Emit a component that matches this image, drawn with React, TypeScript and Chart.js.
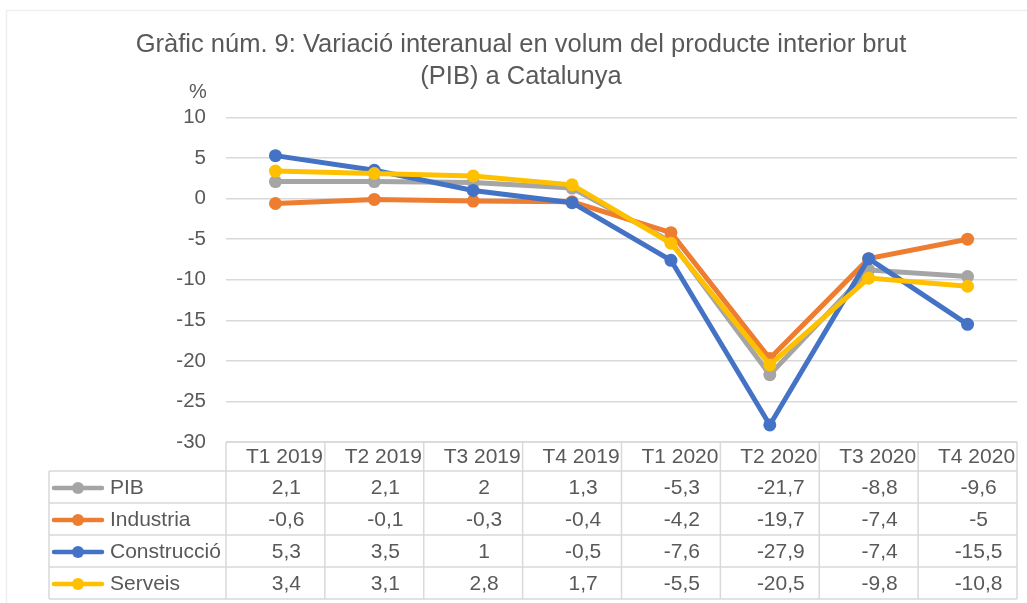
import React, { useEffect, useRef } from "react";
import { Chart, registerables } from "chart.js";

Chart.register(...registerables);

const TITLE_LINES = [
  "Gràfic núm. 9: Variació interanual en volum del producte interior brut",
  "(PIB) a Catalunya",
];
const UNIT_LABEL = "%";
const CATEGORIES = ["T1 2019", "T2 2019", "T3 2019", "T4 2019", "T1 2020", "T2 2020", "T3 2020", "T4 2020"];
const SERIES_NAMES = ["PIB", "Industria", "Construcció", "Serveis"];
const PIB = [2.1, 2.1, 2, 1.3, -5.3, -21.7, -8.8, -9.6];
const INDUSTRIA = [-0.6, -0.1, -0.3, -0.4, -4.2, -19.7, -7.4, -5];
const CONSTRUCCIO = [5.3, 3.5, 1, -0.5, -7.6, -27.9, -7.4, -15.5];
const SERVEIS = [3.4, 3.1, 2.8, 1.7, -5.5, -20.5, -9.8, -10.8];
const SERIES_VALUES = [PIB, INDUSTRIA, CONSTRUCCIO, SERVEIS];
const COLORS = ["#A5A5A5", "#ED7D31", "#4472C4", "#FFC000"];
const Y_MIN = -30;
const Y_MAX = 10;
const Y_STEP = 5;

const FONT = '"Liberation Sans", Arial, Helvetica, sans-serif';
const TEXT_COLOR = "#595959";
const GRID_COLOR = "#D9D9D9";

const fmt = (v: number) => String(v).replace(".", ",");

const tablePlugin = {
  id: "dataTable",
  afterDraw(chart: any) {
    const ctx = chart.ctx as CanvasRenderingContext2D;
    const area = chart.chartArea;
    const xs = chart.scales.x;
    const n = CATEGORIES.length;
    const colW = (area.right - area.left) / n;
    const headerTop = area.bottom;
    const headerH = 29;
    const rowH = 32;
    const labelLeft = 49;
    const tableBottom = headerTop + headerH + rowH * SERIES_NAMES.length;
    ctx.save();

    // faint outer frame
    ctx.strokeStyle = "#EFEFEF";
    ctx.lineWidth = 1.5;
    ctx.beginPath();
    ctx.moveTo(6.5, 603);
    ctx.lineTo(6.5, 10.5);
    ctx.lineTo(1027, 10.5);
    ctx.stroke();

    // unit label
    ctx.fillStyle = TEXT_COLOR;
    ctx.font = `20px ${FONT}`;
    ctx.textAlign = "center";
    ctx.textBaseline = "middle";
    ctx.fillText(UNIT_LABEL, 198, 92);

    // grid lines of the table
    ctx.strokeStyle = GRID_COLOR;
    ctx.lineWidth = 1.5;
    ctx.beginPath();
    ctx.moveTo(area.left, headerTop);
    ctx.lineTo(area.right, headerTop);
    for (let r = 0; r <= SERIES_NAMES.length; r++) {
      const y = headerTop + headerH + r * rowH;
      ctx.moveTo(labelLeft, y);
      ctx.lineTo(area.right, y);
    }
    for (let c = 0; c <= n; c++) {
      const x = area.left + c * colW;
      ctx.moveTo(x, headerTop);
      ctx.lineTo(x, tableBottom);
    }
    ctx.moveTo(labelLeft, headerTop + headerH);
    ctx.lineTo(labelLeft, tableBottom);
    ctx.stroke();

    ctx.font = `21px ${FONT}`;
    ctx.fillStyle = TEXT_COLOR;
    ctx.textAlign = "center";
    ctx.textBaseline = "middle";
    for (let c = 0; c < n; c++) {
      const cx = xs.getPixelForValue(c) + 9;
      ctx.fillText(CATEGORIES[c], cx, headerTop + headerH / 2 + 1);
    }
    for (let r = 0; r < SERIES_NAMES.length; r++) {
      const cy = headerTop + headerH + r * rowH + rowH / 2 + 1;
      ctx.strokeStyle = COLORS[r];
      ctx.lineWidth = 4.5;
      ctx.lineCap = "round";
      ctx.beginPath();
      ctx.moveTo(54, cy);
      ctx.lineTo(102, cy);
      ctx.stroke();
      ctx.fillStyle = COLORS[r];
      ctx.beginPath();
      ctx.arc(78, cy, 6, 0, Math.PI * 2);
      ctx.fill();
      ctx.fillStyle = TEXT_COLOR;
      ctx.textAlign = "left";
      ctx.fillText(SERIES_NAMES[r], 110, cy);
      ctx.textAlign = "center";
      const vals = SERIES_VALUES[r];
      for (let c = 0; c < n; c++) {
        const cx = xs.getPixelForValue(c) + 11;
        ctx.fillText(fmt(vals[c]), cx, cy);
      }
    }
    ctx.restore();
  },
};

export default function App() {
  const canvasRef = useRef<HTMLCanvasElement | null>(null);

  useEffect(() => {
    document.body.style.margin = "0";
    const canvas = canvasRef.current;
    if (!canvas) return;
    const chart = new Chart(canvas, {
      type: "line",
      data: {
        labels: CATEGORIES,
        datasets: SERIES_NAMES.map((name, i) => ({
          label: name,
          data: SERIES_VALUES[i],
          borderColor: COLORS[i],
          backgroundColor: COLORS[i],
          borderWidth: 5,
          pointRadius: 6.5,
          pointBorderWidth: 0,
          pointBackgroundColor: COLORS[i],
          tension: 0,
          order: SERIES_NAMES.length - i,
        })),
      },
      options: {
        responsive: false,
        animation: false,
        layout: { padding: { left: 25, right: 10, top: 0, bottom: 161 } },
        plugins: {
          legend: { display: false },
          tooltip: { enabled: false },
          title: {
            display: true,
            text: TITLE_LINES,
            color: TEXT_COLOR,
            font: { family: FONT, size: 25.5, weight: "normal", lineHeight: 32 / 25.5 },
            padding: { top: 29, bottom: 24.5 },
          },
        },
        scales: {
          x: {
            display: false,
            offset: true,
          },
          y: {
            min: Y_MIN,
            max: Y_MAX,
            ticks: {
              stepSize: Y_STEP,
              color: TEXT_COLOR,
              font: { family: FONT, size: 20.5 },
              padding: 20,
            },
            grid: { color: GRID_COLOR, lineWidth: 1.5, drawTicks: false },
            border: { display: false },
            afterFit: (scale: any) => {
              scale.width = 201;
            },
          },
        },
      },
      plugins: [tablePlugin],
    });
    return () => chart.destroy();
  }, []);

  return (
    <div style={{ position: "absolute", left: 0, top: 0, width: 1027, height: 603, background: "#fff" }}>
      <canvas ref={canvasRef} width={1027} height={603} style={{ display: "block" }} />
    </div>
  );
}
